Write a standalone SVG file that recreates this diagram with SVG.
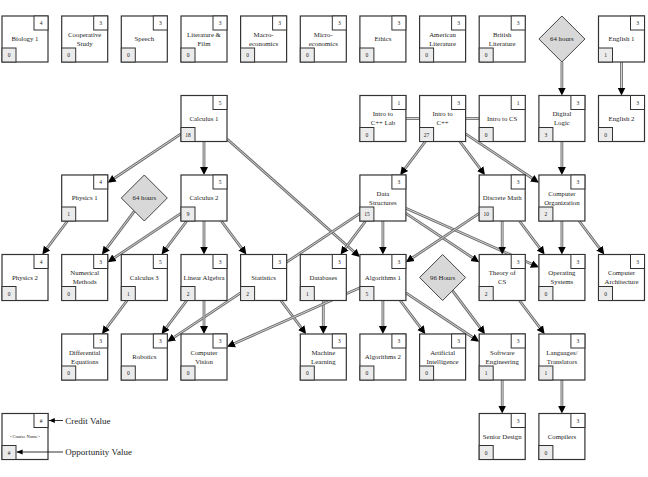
<svg xmlns="http://www.w3.org/2000/svg" width="648" height="477" viewBox="0 0 648 477">
<style>
.b{fill:#fff;stroke:#333;stroke-width:1.2}
.cr{fill:#fff;stroke:#333;stroke-width:1}
.op{fill:#ebebeb;stroke:#333;stroke-width:1}
.dm{fill:#d8d8d8;stroke:#444;stroke-width:1}
text{font-family:"Liberation Serif","DejaVu Serif",serif;fill:#222}
.n{font-size:6.8px;text-anchor:middle}
.num{font-size:5.5px;text-anchor:middle}
.eo{stroke:#707070;stroke-width:2.8;fill:none}
.ei{stroke:#d2d2d2;stroke-width:1;fill:none}
.a{marker-end:url(#ah)}
.lg{stroke:#000;stroke-width:0.8;marker-end:url(#as)}
.lt{font-size:9px}
.tiny{font-size:4.6px;text-anchor:middle}
</style>
<defs>
<marker id="ah" markerUnits="userSpaceOnUse" markerWidth="10" markerHeight="10" viewBox="0 -5 10 10" refX="5" refY="0" orient="auto"><path d="M0,-4 L8,0 L0,4 z" fill="#000"/></marker>
<marker id="as" markerUnits="userSpaceOnUse" markerWidth="6" markerHeight="6" viewBox="0 -3 6 6" refX="6" refY="0" orient="auto"><path d="M0,-2.5 L6,0 L0,2.5 z" fill="#000"/></marker>
</defs>

<g id="connectors">
<line class="eo" x1="561.9" y1="62" x2="561.9" y2="92.5"/><line class="ei a" x1="561.9" y1="62" x2="561.9" y2="92.5"/>
<line class="eo" x1="621.5" y1="62" x2="621.5" y2="92.5"/><line class="ei a" x1="621.5" y1="62" x2="621.5" y2="92.5"/>
<line class="eo" x1="181" y1="133.8" x2="110.2" y2="181"/><line class="ei a" x1="181" y1="133.8" x2="110.2" y2="181"/>
<line class="eo" x1="204" y1="141.5" x2="204" y2="172"/><line class="ei a" x1="204" y1="141.5" x2="204" y2="172"/>
<line class="eo" x1="227" y1="138.95" x2="357.66" y2="255.06"/><line class="ei a" x1="227" y1="138.95" x2="357.66" y2="255.06"/>
<line class="eo" x1="405.9" y1="118.5" x2="419.6" y2="118.5"/><line class="ei" x1="405.9" y1="118.5" x2="419.6" y2="118.5"/>
<line class="eo" x1="465.6" y1="118.5" x2="479.2" y2="118.5"/><line class="ei" x1="465.6" y1="118.5" x2="479.2" y2="118.5"/>
<line class="eo" x1="425.33" y1="141.5" x2="401.97" y2="172.6"/><line class="ei a" x1="425.33" y1="141.5" x2="401.97" y2="172.6"/>
<line class="eo" x1="459.84" y1="141.5" x2="483.16" y2="172.6"/><line class="ei a" x1="459.84" y1="141.5" x2="483.16" y2="172.6"/>
<line class="eo" x1="465.6" y1="133.83" x2="536.4" y2="181"/><line class="ei a" x1="465.6" y1="133.83" x2="536.4" y2="181"/>
<line class="eo" x1="561.9" y1="141.5" x2="561.9" y2="172"/><line class="ei a" x1="561.9" y1="141.5" x2="561.9" y2="172"/>
<line class="eo" x1="67.43" y1="221" x2="44.07" y2="252.1"/><line class="ei a" x1="67.43" y1="221" x2="44.07" y2="252.1"/>
<line class="eo" x1="134.44" y1="211.15" x2="103.74" y2="252.1"/><line class="ei a" x1="134.44" y1="211.15" x2="103.74" y2="252.1"/>
<line class="eo" x1="181" y1="213.33" x2="110.2" y2="260.5"/><line class="ei a" x1="181" y1="213.33" x2="110.2" y2="260.5"/>
<line class="eo" x1="186.73" y1="221" x2="163.37" y2="252.1"/><line class="ei a" x1="186.73" y1="221" x2="163.37" y2="252.1"/>
<line class="eo" x1="204" y1="221" x2="204" y2="251.5"/><line class="ei a" x1="204" y1="221" x2="204" y2="251.5"/>
<line class="eo" x1="221.24" y1="221" x2="244.56" y2="252.1"/><line class="ei a" x1="221.24" y1="221" x2="244.56" y2="252.1"/>
<line class="eo" x1="365.66" y1="221" x2="342.34" y2="252.1"/><line class="ei a" x1="365.66" y1="221" x2="342.34" y2="252.1"/>
<line class="eo" x1="382.9" y1="221" x2="382.9" y2="251.5"/><line class="ei a" x1="382.9" y1="221" x2="382.9" y2="251.5"/>
<line class="eo" x1="359.9" y1="213.3" x2="169.8" y2="340.04"/><line class="ei a" x1="359.9" y1="213.3" x2="169.8" y2="340.04"/>
<line class="eo" x1="405.9" y1="213.33" x2="476.7" y2="260.5"/><line class="ei a" x1="405.9" y1="213.33" x2="476.7" y2="260.5"/>
<line class="eo" x1="405.9" y1="208.22" x2="536.16" y2="266.06"/><line class="ei a" x1="405.9" y1="208.22" x2="536.16" y2="266.06"/>
<line class="eo" x1="479.2" y1="213.33" x2="408.4" y2="260.5"/><line class="ei a" x1="479.2" y1="213.33" x2="408.4" y2="260.5"/>
<line class="eo" x1="502.2" y1="221" x2="502.2" y2="251.5"/><line class="ei a" x1="502.2" y1="221" x2="502.2" y2="251.5"/>
<line class="eo" x1="519.47" y1="221" x2="542.83" y2="252.1"/><line class="ei a" x1="519.47" y1="221" x2="542.83" y2="252.1"/>
<line class="eo" x1="561.9" y1="221" x2="561.9" y2="251.5"/><line class="ei a" x1="561.9" y1="221" x2="561.9" y2="251.5"/>
<line class="eo" x1="579.14" y1="221" x2="602.46" y2="252.1"/><line class="ei a" x1="579.14" y1="221" x2="602.46" y2="252.1"/>
<line class="eo" x1="127.06" y1="300.5" x2="103.74" y2="331.6"/><line class="ei a" x1="127.06" y1="300.5" x2="103.74" y2="331.6"/>
<line class="eo" x1="186.73" y1="300.5" x2="163.37" y2="331.6"/><line class="ei a" x1="186.73" y1="300.5" x2="163.37" y2="331.6"/>
<line class="eo" x1="204" y1="300.5" x2="204" y2="331"/><line class="ei a" x1="204" y1="300.5" x2="204" y2="331"/>
<line class="eo" x1="280.87" y1="300.5" x2="304.23" y2="331.6"/><line class="ei a" x1="280.87" y1="300.5" x2="304.23" y2="331.6"/>
<line class="eo" x1="323.3" y1="300.5" x2="323.3" y2="331"/><line class="ei a" x1="323.3" y1="300.5" x2="323.3" y2="331"/>
<line class="eo" x1="359.9" y1="287.72" x2="229.74" y2="345.56"/><line class="ei a" x1="359.9" y1="287.72" x2="229.74" y2="345.56"/>
<line class="eo" x1="382.9" y1="300.5" x2="382.9" y2="331"/><line class="ei a" x1="382.9" y1="300.5" x2="382.9" y2="331"/>
<line class="eo" x1="400.17" y1="300.5" x2="423.53" y2="331.6"/><line class="ei a" x1="400.17" y1="300.5" x2="423.53" y2="331.6"/>
<line class="eo" x1="405.9" y1="292.83" x2="476.7" y2="340"/><line class="ei a" x1="405.9" y1="292.83" x2="476.7" y2="340"/>
<line class="eo" x1="452.45" y1="290.64" x2="483.16" y2="331.6"/><line class="ei a" x1="452.45" y1="290.64" x2="483.16" y2="331.6"/>
<line class="eo" x1="519.47" y1="300.5" x2="542.83" y2="331.6"/><line class="ei a" x1="519.47" y1="300.5" x2="542.83" y2="331.6"/>
<line class="eo" x1="502.2" y1="380" x2="502.2" y2="410.5"/><line class="ei a" x1="502.2" y1="380" x2="502.2" y2="410.5"/>
<line class="eo" x1="561.9" y1="380" x2="561.9" y2="410.5"/><line class="ei a" x1="561.9" y1="380" x2="561.9" y2="410.5"/>
</g>

<!-- Row 0 -->
<g id="biology-1" transform="translate(2,16)"><rect class="b" width="46" height="46"/><rect class="cr" x="32" width="14" height="14"/><rect class="op" y="32" width="14" height="14"/><text class="n" x="23" y="25">Biology 1</text><text class="num" x="39" y="9">4</text><text class="num" x="7" y="41">0</text></g>
<g id="cooperative-study" transform="translate(61.7,16)"><rect class="b" width="46" height="46"/><rect class="cr" x="32" width="14" height="14"/><rect class="op" y="32" width="14" height="14"/><text class="n" x="23" y="20.6">Cooperative</text><text class="n" x="23" y="29.9">Study</text><text class="num" x="39" y="9">3</text><text class="num" x="7" y="41">0</text></g>
<g id="speech" transform="translate(121.3,16)"><rect class="b" width="46" height="46"/><rect class="cr" x="32" width="14" height="14"/><rect class="op" y="32" width="14" height="14"/><text class="n" x="23" y="25">Speech</text><text class="num" x="39" y="9">3</text><text class="num" x="7" y="41">0</text></g>
<g id="literature-film" transform="translate(181,16)"><rect class="b" width="46" height="46"/><rect class="cr" x="32" width="14" height="14"/><rect class="op" y="32" width="14" height="14"/><text class="n" x="23" y="20.6">Literature &amp;</text><text class="n" x="23" y="29.9">Film</text><text class="num" x="39" y="9">3</text><text class="num" x="7" y="41">0</text></g>
<g id="macroeconomics" transform="translate(240.6,16)"><rect class="b" width="46" height="46"/><rect class="cr" x="32" width="14" height="14"/><rect class="op" y="32" width="14" height="14"/><text class="n" x="23" y="20.6">Macro-</text><text class="n" x="23" y="29.9">economics</text><text class="num" x="39" y="9">3</text><text class="num" x="7" y="41">0</text></g>
<g id="microeconomics" transform="translate(300.3,16)"><rect class="b" width="46" height="46"/><rect class="cr" x="32" width="14" height="14"/><rect class="op" y="32" width="14" height="14"/><text class="n" x="23" y="20.6">Micro-</text><text class="n" x="23" y="29.9">economics</text><text class="num" x="39" y="9">3</text><text class="num" x="7" y="41">0</text></g>
<g id="ethics" transform="translate(359.9,16)"><rect class="b" width="46" height="46"/><rect class="cr" x="32" width="14" height="14"/><rect class="op" y="32" width="14" height="14"/><text class="n" x="23" y="25">Ethics</text><text class="num" x="39" y="9">3</text><text class="num" x="7" y="41">0</text></g>
<g id="american-literature" transform="translate(419.6,16)"><rect class="b" width="46" height="46"/><rect class="cr" x="32" width="14" height="14"/><rect class="op" y="32" width="14" height="14"/><text class="n" x="23" y="20.6">American</text><text class="n" x="23" y="29.9">Literature</text><text class="num" x="39" y="9">3</text><text class="num" x="7" y="41">0</text></g>
<g id="british-literature" transform="translate(479.2,16)"><rect class="b" width="46" height="46"/><rect class="cr" x="32" width="14" height="14"/><rect class="op" y="32" width="14" height="14"/><text class="n" x="23" y="20.6">British</text><text class="n" x="23" y="29.9">Literature</text><text class="num" x="39" y="9">3</text><text class="num" x="7" y="41">0</text></g>
<g id="hours-64-a" transform="translate(538.9,16)"><polygon class="dm" points="23,0 46,23 23,46 0,23"/><text class="n" x="23" y="25.3">64 hours</text></g>
<g id="english-1" transform="translate(598.5,16)"><rect class="b" width="46" height="46"/><rect class="cr" x="32" width="14" height="14"/><rect class="op" y="32" width="14" height="14"/><text class="n" x="23" y="25">English 1</text><text class="num" x="39" y="9">3</text><text class="num" x="7" y="41">1</text></g>

<!-- Row 1 -->
<g id="calculus-1" transform="translate(181,95.5)"><rect class="b" width="46" height="46"/><rect class="cr" x="32" width="14" height="14"/><rect class="op" y="32" width="14" height="14"/><text class="n" x="23" y="25">Calculus 1</text><text class="num" x="39" y="9">5</text><text class="num" x="7" y="41">18</text></g>
<g id="intro-cpp-lab" transform="translate(359.9,95.5)"><rect class="b" width="46" height="46"/><rect class="cr" x="32" width="14" height="14"/><rect class="op" y="32" width="14" height="14"/><text class="n" x="23" y="20.6">Intro to</text><text class="n" x="23" y="29.9">C++ Lab</text><text class="num" x="39" y="9">1</text><text class="num" x="7" y="41">0</text></g>
<g id="intro-cpp" transform="translate(419.6,95.5)"><rect class="b" width="46" height="46"/><rect class="cr" x="32" width="14" height="14"/><rect class="op" y="32" width="14" height="14"/><text class="n" x="23" y="20.6">Intro to</text><text class="n" x="23" y="29.9">C++</text><text class="num" x="39" y="9">3</text><text class="num" x="7" y="41">27</text></g>
<g id="intro-cs" transform="translate(479.2,95.5)"><rect class="b" width="46" height="46"/><rect class="cr" x="32" width="14" height="14"/><rect class="op" y="32" width="14" height="14"/><text class="n" x="23" y="25">Intro to CS</text><text class="num" x="39" y="9">1</text><text class="num" x="7" y="41">0</text></g>
<g id="digital-logic" transform="translate(538.9,95.5)"><rect class="b" width="46" height="46"/><rect class="cr" x="32" width="14" height="14"/><rect class="op" y="32" width="14" height="14"/><text class="n" x="23" y="20.6">Digital</text><text class="n" x="23" y="29.9">Logic</text><text class="num" x="39" y="9">3</text><text class="num" x="7" y="41">3</text></g>
<g id="english-2" transform="translate(598.5,95.5)"><rect class="b" width="46" height="46"/><rect class="cr" x="32" width="14" height="14"/><rect class="op" y="32" width="14" height="14"/><text class="n" x="23" y="25">English 2</text><text class="num" x="39" y="9">3</text><text class="num" x="7" y="41">0</text></g>

<!-- Row 2 -->
<g id="physics-1" transform="translate(61.7,175)"><rect class="b" width="46" height="46"/><rect class="cr" x="32" width="14" height="14"/><rect class="op" y="32" width="14" height="14"/><text class="n" x="23" y="25">Physics 1</text><text class="num" x="39" y="9">4</text><text class="num" x="7" y="41">1</text></g>
<g id="hours-64-b" transform="translate(121.3,175)"><polygon class="dm" points="23,0 46,23 23,46 0,23"/><text class="n" x="23" y="25.3">64 hours</text></g>
<g id="calculus-2" transform="translate(181,175)"><rect class="b" width="46" height="46"/><rect class="cr" x="32" width="14" height="14"/><rect class="op" y="32" width="14" height="14"/><text class="n" x="23" y="25">Calculus 2</text><text class="num" x="39" y="9">5</text><text class="num" x="7" y="41">9</text></g>
<g id="data-structures" transform="translate(359.9,175)"><rect class="b" width="46" height="46"/><rect class="cr" x="32" width="14" height="14"/><rect class="op" y="32" width="14" height="14"/><text class="n" x="23" y="20.6">Data</text><text class="n" x="23" y="29.9">Structures</text><text class="num" x="39" y="9">3</text><text class="num" x="7" y="41">15</text></g>
<g id="discrete-math" transform="translate(479.2,175)"><rect class="b" width="46" height="46"/><rect class="cr" x="32" width="14" height="14"/><rect class="op" y="32" width="14" height="14"/><text class="n" x="23" y="25">Discrete Math</text><text class="num" x="39" y="9">3</text><text class="num" x="7" y="41">10</text></g>
<g id="computer-organization" transform="translate(538.9,175)"><rect class="b" width="46" height="46"/><rect class="cr" x="32" width="14" height="14"/><rect class="op" y="32" width="14" height="14"/><text class="n" x="23" y="20.6">Computer</text><text class="n" x="23" y="29.9">Organization</text><text class="num" x="39" y="9">3</text><text class="num" x="7" y="41">2</text></g>

<!-- Row 3 -->
<g id="physics-2" transform="translate(2,254.5)"><rect class="b" width="46" height="46"/><rect class="cr" x="32" width="14" height="14"/><rect class="op" y="32" width="14" height="14"/><text class="n" x="23" y="25">Physics 2</text><text class="num" x="39" y="9">4</text><text class="num" x="7" y="41">0</text></g>
<g id="numerical-methods" transform="translate(61.7,254.5)"><rect class="b" width="46" height="46"/><rect class="cr" x="32" width="14" height="14"/><rect class="op" y="32" width="14" height="14"/><text class="n" x="23" y="20.6">Numerical</text><text class="n" x="23" y="29.9">Methods</text><text class="num" x="39" y="9">3</text><text class="num" x="7" y="41">0</text></g>
<g id="calculus-3" transform="translate(121.3,254.5)"><rect class="b" width="46" height="46"/><rect class="cr" x="32" width="14" height="14"/><rect class="op" y="32" width="14" height="14"/><text class="n" x="23" y="25">Calculus 3</text><text class="num" x="39" y="9">5</text><text class="num" x="7" y="41">1</text></g>
<g id="linear-algebra" transform="translate(181,254.5)"><rect class="b" width="46" height="46"/><rect class="cr" x="32" width="14" height="14"/><rect class="op" y="32" width="14" height="14"/><text class="n" x="23" y="25">Linear Algebra</text><text class="num" x="39" y="9">3</text><text class="num" x="7" y="41">2</text></g>
<g id="statistics" transform="translate(240.6,254.5)"><rect class="b" width="46" height="46"/><rect class="cr" x="32" width="14" height="14"/><rect class="op" y="32" width="14" height="14"/><text class="n" x="23" y="25">Statistics</text><text class="num" x="39" y="9">3</text><text class="num" x="7" y="41">2</text></g>
<g id="databases" transform="translate(300.3,254.5)"><rect class="b" width="46" height="46"/><rect class="cr" x="32" width="14" height="14"/><rect class="op" y="32" width="14" height="14"/><text class="n" x="23" y="25">Databases</text><text class="num" x="39" y="9">3</text><text class="num" x="7" y="41">1</text></g>
<g id="algorithms-1" transform="translate(359.9,254.5)"><rect class="b" width="46" height="46"/><rect class="cr" x="32" width="14" height="14"/><rect class="op" y="32" width="14" height="14"/><text class="n" x="23" y="25">Algorithms 1</text><text class="num" x="39" y="9">3</text><text class="num" x="7" y="41">5</text></g>
<g id="hours-96" transform="translate(419.6,254.5)"><polygon class="dm" points="23,0 46,23 23,46 0,23"/><text class="n" x="23" y="25.3">96 Hours</text></g>
<g id="theory-of-cs" transform="translate(479.2,254.5)"><rect class="b" width="46" height="46"/><rect class="cr" x="32" width="14" height="14"/><rect class="op" y="32" width="14" height="14"/><text class="n" x="23" y="20.6">Theory of</text><text class="n" x="23" y="29.9">CS</text><text class="num" x="39" y="9">3</text><text class="num" x="7" y="41">2</text></g>
<g id="operating-systems" transform="translate(538.9,254.5)"><rect class="b" width="46" height="46"/><rect class="cr" x="32" width="14" height="14"/><rect class="op" y="32" width="14" height="14"/><text class="n" x="23" y="20.6">Operating</text><text class="n" x="23" y="29.9">Systems</text><text class="num" x="39" y="9">3</text><text class="num" x="7" y="41">0</text></g>
<g id="computer-architecture" transform="translate(598.5,254.5)"><rect class="b" width="46" height="46"/><rect class="cr" x="32" width="14" height="14"/><rect class="op" y="32" width="14" height="14"/><text class="n" x="23" y="20.6">Computer</text><text class="n" x="23" y="29.9">Architecture</text><text class="num" x="39" y="9">3</text><text class="num" x="7" y="41">0</text></g>

<!-- Row 4 -->
<g id="differential-equations" transform="translate(61.7,334)"><rect class="b" width="46" height="46"/><rect class="cr" x="32" width="14" height="14"/><rect class="op" y="32" width="14" height="14"/><text class="n" x="23" y="20.6">Differential</text><text class="n" x="23" y="29.9">Equations</text><text class="num" x="39" y="9">3</text><text class="num" x="7" y="41">0</text></g>
<g id="robotics" transform="translate(121.3,334)"><rect class="b" width="46" height="46"/><rect class="cr" x="32" width="14" height="14"/><rect class="op" y="32" width="14" height="14"/><text class="n" x="23" y="25">Robotics</text><text class="num" x="39" y="9">3</text><text class="num" x="7" y="41">0</text></g>
<g id="computer-vision" transform="translate(181,334)"><rect class="b" width="46" height="46"/><rect class="cr" x="32" width="14" height="14"/><rect class="op" y="32" width="14" height="14"/><text class="n" x="23" y="20.6">Computer</text><text class="n" x="23" y="29.9">Vision</text><text class="num" x="39" y="9">3</text><text class="num" x="7" y="41">0</text></g>
<g id="machine-learning" transform="translate(300.3,334)"><rect class="b" width="46" height="46"/><rect class="cr" x="32" width="14" height="14"/><rect class="op" y="32" width="14" height="14"/><text class="n" x="23" y="20.6">Machine</text><text class="n" x="23" y="29.9">Learning</text><text class="num" x="39" y="9">3</text><text class="num" x="7" y="41">0</text></g>
<g id="algorithms-2" transform="translate(359.9,334)"><rect class="b" width="46" height="46"/><rect class="cr" x="32" width="14" height="14"/><rect class="op" y="32" width="14" height="14"/><text class="n" x="23" y="25">Algorithms 2</text><text class="num" x="39" y="9">3</text><text class="num" x="7" y="41">0</text></g>
<g id="artificial-intelligence" transform="translate(419.6,334)"><rect class="b" width="46" height="46"/><rect class="cr" x="32" width="14" height="14"/><rect class="op" y="32" width="14" height="14"/><text class="n" x="23" y="20.6">Artificial</text><text class="n" x="23" y="29.9">Intelligence</text><text class="num" x="39" y="9">3</text><text class="num" x="7" y="41">0</text></g>
<g id="software-engineering" transform="translate(479.2,334)"><rect class="b" width="46" height="46"/><rect class="cr" x="32" width="14" height="14"/><rect class="op" y="32" width="14" height="14"/><text class="n" x="23" y="20.6">Software</text><text class="n" x="23" y="29.9">Engineering</text><text class="num" x="39" y="9">3</text><text class="num" x="7" y="41">1</text></g>
<g id="languages-translators" transform="translate(538.9,334)"><rect class="b" width="46" height="46"/><rect class="cr" x="32" width="14" height="14"/><rect class="op" y="32" width="14" height="14"/><text class="n" x="23" y="20.6">Languages/</text><text class="n" x="23" y="29.9">Translators</text><text class="num" x="39" y="9">3</text><text class="num" x="7" y="41">1</text></g>

<!-- Row 5 -->
<g id="senior-design" transform="translate(479.2,413.5)"><rect class="b" width="46" height="46"/><rect class="cr" x="32" width="14" height="14"/><rect class="op" y="32" width="14" height="14"/><text class="n" x="23" y="25">Senior Design</text><text class="num" x="39" y="9">3</text><text class="num" x="7" y="41">0</text></g>
<g id="compilers" transform="translate(538.9,413.5)"><rect class="b" width="46" height="46"/><rect class="cr" x="32" width="14" height="14"/><rect class="op" y="32" width="14" height="14"/><text class="n" x="23" y="25">Compilers</text><text class="num" x="39" y="9">3</text><text class="num" x="7" y="41">0</text></g>

<!-- Legend -->
<g id="legend">
<g transform="translate(2,413.5)"><rect class="b" width="46" height="46"/><rect class="cr" x="32" width="14" height="14"/><rect class="op" y="32" width="14" height="14"/><text class="tiny" x="23" y="24.6">&lt;Course Name&gt;</text><text class="num" x="39" y="9">#</text><text class="num" x="7" y="41">#</text></g>
<line class="lg" x1="63" y1="420.5" x2="48.8" y2="420.5"/>
<line class="lg" x1="63" y1="452" x2="16.6" y2="452"/>
<text class="lt" x="65.3" y="423.6">Credit Value</text>
<text class="lt" x="65.3" y="455.2">Opportunity Value</text>
</g>
</svg>
